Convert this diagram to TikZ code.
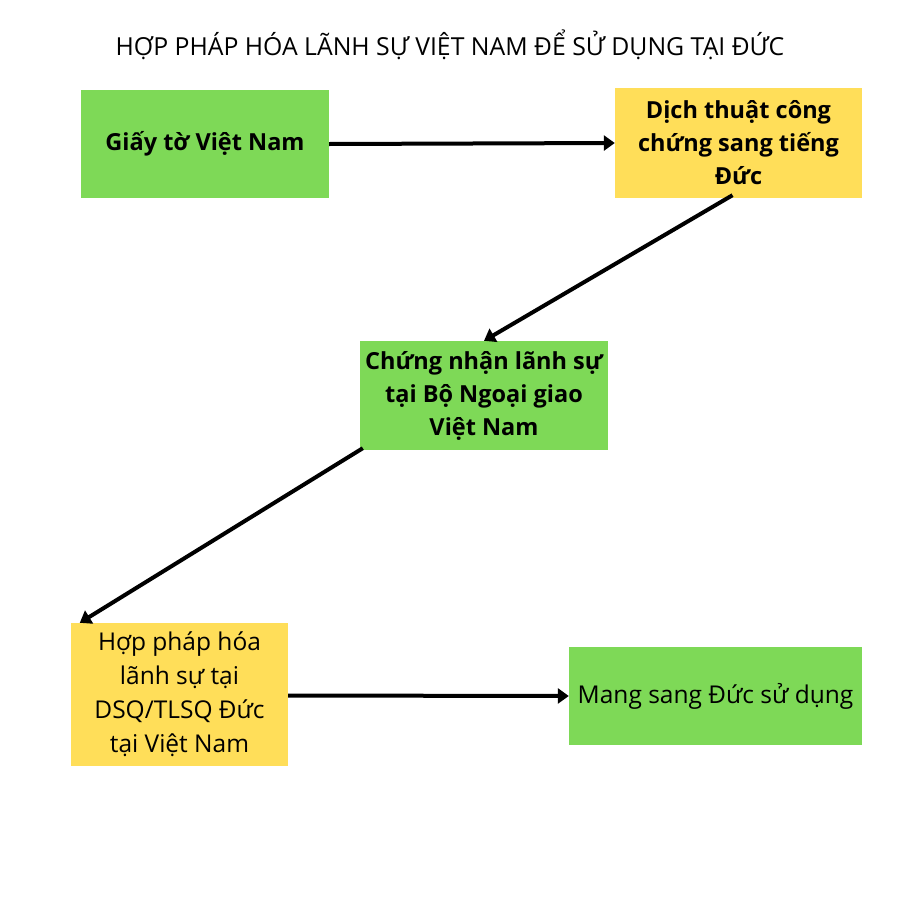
\documentclass[tikz,border=0pt]{standalone}
\usepackage{fontspec}
\setmainfont{Open Sans}
\usetikzlibrary{arrows.meta}
\definecolor{boxgreen}{HTML}{7ED957}
\definecolor{boxyellow}{HTML}{FFDE59}
\tikzset{
  box/.style={inner sep=0pt, align=center},
  greenbox/.style={box, fill=boxgreen},
  yellowbox/.style={box, fill=boxyellow},
  boldtext/.style={font=\fontsize{23.5}{33}\selectfont\bfseries},
  plaintext/.style={font=\fontsize{24.5}{34}\selectfont},
  flow/.style={line width=4pt, -{Triangle[length=11pt,width=15pt]}}
}
\begin{document}
\begin{tikzpicture}[x=1pt,y=-1pt]
\useasboundingbox (0,0) rectangle (900,900);
\fill[white] (0,0) rectangle (900,900);
\node[font=\fontsize{24.8}{28}\selectfont] (title) at (450,45) {HỢP PHÁP HÓA LÃNH SỰ VIỆT NAM ĐỂ SỬ DỤNG TẠI ĐỨC};
\node[greenbox, boldtext, minimum width=248pt, minimum height=108pt] (b1) at (205,144) {Giấy tờ Việt Nam};
\node[yellowbox, boldtext, minimum width=247pt, minimum height=110pt] (b2) at (738.5,143) {Dịch thuật công\\chứng sang tiếng\\Đức};
\node[greenbox, boldtext, minimum width=248pt, minimum height=109pt] (b3) at (484,395.5) {Chứng nhận lãnh sự\\tại Bộ Ngoại giao\\Việt Nam};
\node[yellowbox, plaintext, minimum width=217pt, minimum height=143pt] (b4) at (179.5,694.5) {Hợp pháp hóa\\lãnh sự tại\\DSQ/TLSQ Đức\\tại Việt Nam};
\node[greenbox, plaintext, minimum width=293pt, minimum height=98pt] (b5) at (715.5,696) {Mang sang Đức sử dụng};
\draw[flow] (b1.east) -- (b2.west);
\draw[flow] ([xshift=-6pt,yshift=3pt]b2.south) -- (b3.north);
\draw[flow] ([xshift=3pt,yshift=2pt]b3.south west) -- ([xshift=9pt]b4.north west);
\draw[flow] ([yshift=-1pt]b4.east) -- (b5.west);
\end{tikzpicture}
\end{document}
